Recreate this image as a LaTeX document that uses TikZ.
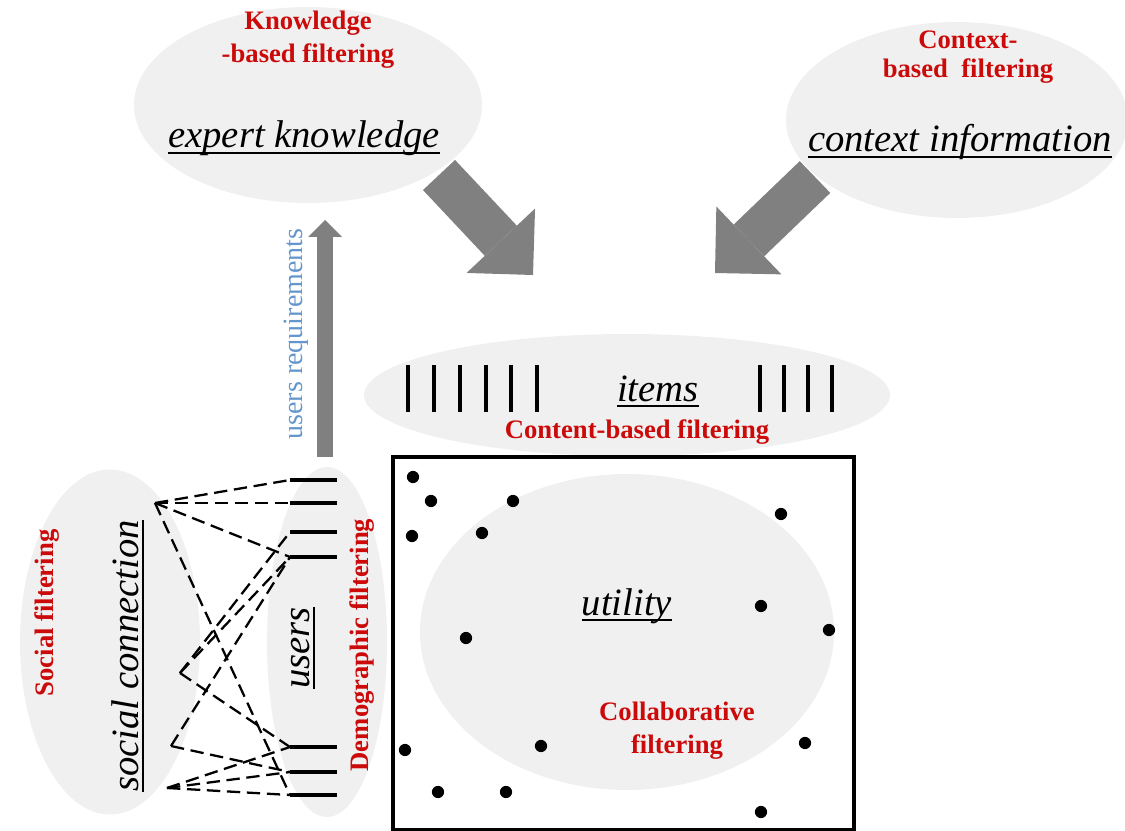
\documentclass[tikz,border=0pt]{standalone}
\usepackage{fontspec}
\setmainfont{Liberation Serif}
\usetikzlibrary{shapes.geometric,arrows.meta}

\definecolor{blobgray}{RGB}{240,240,240}
\definecolor{arrowgray}{RGB}{128,128,128}
\definecolor{labelred}{RGB}{204,10,10}
\definecolor{reqblue}{RGB}{100,150,205}

% underline at a fixed depth, through the descenders
\newcommand{\ulin}[1]{\setbox0\hbox{#1}\rlap{\rule[-0.16em]{\wd0}{0.055em}}\box0}

\begin{document}
\begin{tikzpicture}
  [x=0.75pt, y=-0.75pt,
   blob/.style={ellipse, fill=blobgray, inner sep=0pt},
   redlabel/.style={text=labelred, align=center, font=\bfseries\fontsize{20}{25}\selectfont},
   term/.style={anchor=base, font=\itshape\fontsize{29}{34}\selectfont},
   bigarrow/.style={arrowgray, line width=33pt, -{Triangle[width=70.5pt, length=35.25pt, line width=0pt]}},
   reqarrow/.style={arrowgray, line width=12pt, -{Triangle[width=25.5pt, length=12.75pt, line width=0pt]}},
   itembar/.style={line width=3pt},
   userbar/.style={line width=3.5pt},
   link/.style={line width=1.7pt, dash pattern=on 10pt off 5pt}]
  \useasboundingbox (0,0) rectangle (1125,831);

  % grey blobs
  \node[blob, minimum width=261pt, minimum height=147pt] (know) at (308,105) {};
  \node[blob, minimum width=256.5pt, minimum height=147pt] (ctx) at (957,120) {};
  \node[blob, minimum width=394.5pt, minimum height=91.5pt] (items) at (627,395) {};
  \node[blob, minimum width=310.5pt, minimum height=237pt] (util) at (627,632) {};
  \node[blob, minimum width=135pt, minimum height=258.75pt] (social) at (110,642) {};
  \node[blob, minimum width=90pt, minimum height=262.5pt] (users) at (327,642) {};

  % utility matrix
  \draw[line width=3pt] (393,457) rectangle (854,830);
  \foreach \x/\y in {413/477,431/501,513/501,412/536,482/533,781/514,761/606,829/630,
                     466/638,405/750,541/746,805/743,438/792,506/792,761/812}
    \fill (\x,\y) circle (4.6pt);

  % item bars
  \foreach \x in {408,434,460,486,511,537,760,784,808,832}
    \draw[itembar] (\x,365) -- (\x,412);

  % user bars
  \foreach \i/\y in {1/480,2/503,3/532,4/557,5/747,6/772,7/795}
    \draw[userbar] (290,\y) coordinate (u\i) -- (337,\y);

  % social links
  \coordinate (s1) at (155,503);
  \coordinate (s2) at (180,673);
  \coordinate (s3) at (171,746);
  \coordinate (s4) at (167,788);
  \foreach \a/\b in {s1/u1,s1/u2,s1/u4,s1/u7,s2/u3,s2/u4,s2/u5,
                     s3/u4,s3/u6,s4/u5,s4/u6,s4/u7}
    \draw[link] (\a) -- (\b);

  % arrows
  \coordinate (kfrom) at (439,175);
  \coordinate (kto) at (533,275);
  \coordinate (cfrom) at (815,177);
  \coordinate (cto) at (715,273);
  \coordinate (rfrom) at (325,457);
  \coordinate (rto) at (325,220);
  \draw[bigarrow] (kfrom) -- (kto);
  \draw[bigarrow] (cfrom) -- (cto);
  \draw[reqarrow] (rfrom) -- (rto);

  % texts
  \node[redlabel] (knowlab) at (308,40) {Knowledge\\-based filtering};
  \node[term] (knowtxt) at (304,148) {\ulin{expert knowledge}};
  \node[redlabel, font=\bfseries\fontsize{20}{22}\selectfont] (ctxlab) at (968,57) {Context-\\based~ filtering};
  \node[term] (ctxtxt) at (960,152) {\ulin{context information}};
  \node[term] (itemtxt) at (658,401) {\ulin{items}};
  \node[redlabel] (itemlab) at (637,432) {Content-based filtering};
  \node[term] (utiltxt) at (627,615) {\ulin{utility}};
  \node[redlabel] (utillab) at (677,731) {Collaborative\\filtering};
  \node[redlabel, rotate=90] (sociallab) at (47,613) {Social filtering};
  \node[term, rotate=90] (socialtxt) at (138,656) {\ulin{social connection}};
  \node[term, rotate=90] (userstxt) at (309,648) {\ulin{users}};
  \node[redlabel, rotate=90] (userslab) at (362,645) {Demographic filtering};
  \node[rotate=90, text=reqblue, font=\fontsize{21}{25}\selectfont] (reqtxt) at (296,334) {users requirements};
\end{tikzpicture}
\end{document}
